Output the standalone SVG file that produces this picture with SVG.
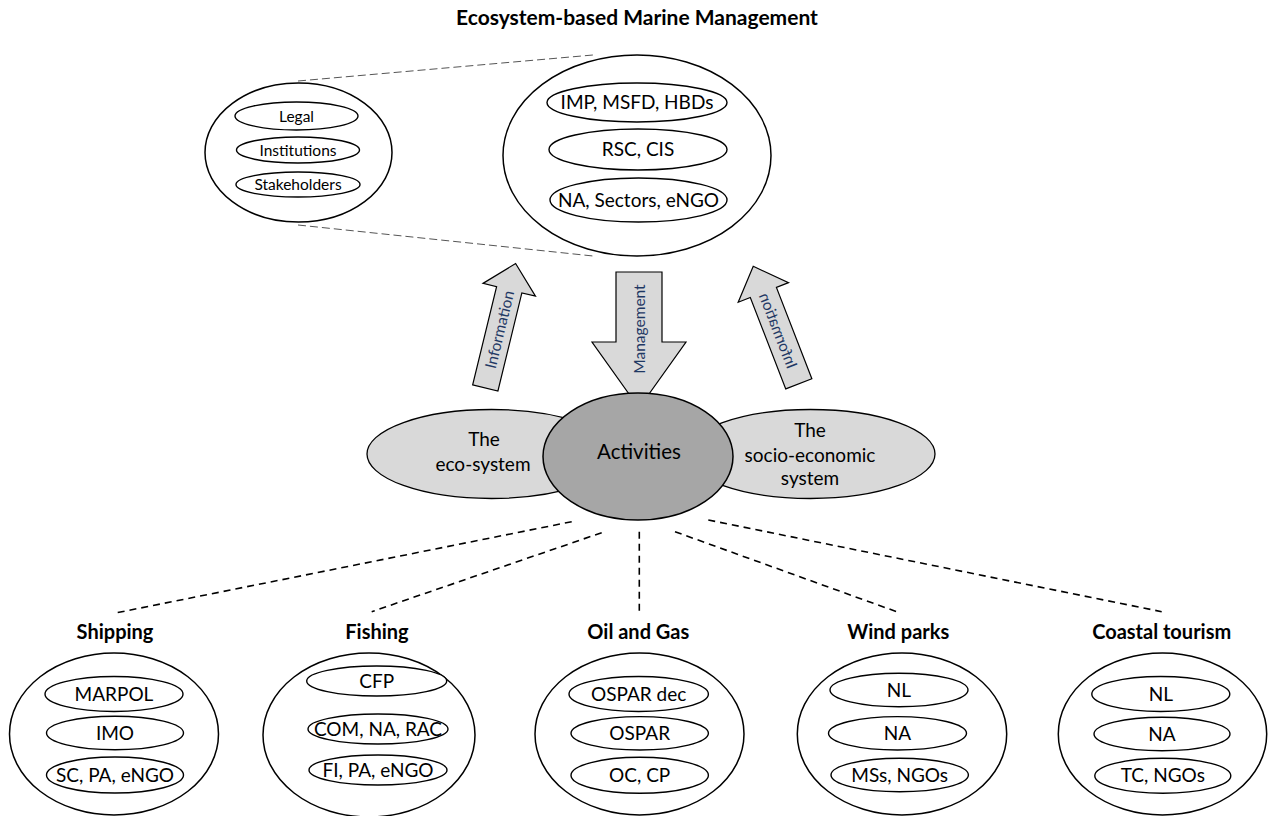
<svg xmlns="http://www.w3.org/2000/svg" width="1269" height="816" viewBox="0 0 1269 816">
<style>
text{font-family:Lato,"Open Sans","Liberation Sans",sans-serif;fill:#000;text-anchor:middle}
.o{fill:#fff;stroke:#000;stroke-width:1.5}
.i{fill:#fff;stroke:#000;stroke-width:1.4}
.t{font-size:19px}
.s{font-size:15.5px}
.b{font-size:20px;font-weight:bold}
.g{fill:#d9d9d9;stroke:#000;stroke-width:1.3}
.ar{fill:#d9d9d9;stroke:#000;stroke-width:1.2}
.bl{font-size:15.5px;fill:#1f3864}
.dt{fill:none;stroke:#555;stroke-width:1;stroke-dasharray:8 4}
.db{fill:none;stroke:#000;stroke-width:1.6;stroke-dasharray:7 5}
</style>
<rect width="1269" height="816" fill="#fff"/>
<text id="title" class="b" x="637" y="25" style="font-size:21px">Ecosystem-based Marine Management</text>

<g id="connectors">
<line class="dt" x1="298" y1="81" x2="593" y2="55"/>
<line class="dt" x1="298" y1="225" x2="593" y2="256"/>
<line class="db" x1="571.7" y1="521.7" x2="114" y2="613.3"/>
<line class="db" x1="601.7" y1="532.7" x2="371.7" y2="611.7"/>
<line class="db" x1="639.3" y1="531.7" x2="639.3" y2="611.7"/>
<line class="db" x1="675" y1="531.7" x2="898.3" y2="612.3"/>
<line class="db" x1="708.3" y1="520" x2="1161.7" y2="611.7"/>
</g>

<g id="framework-small">
<ellipse class="o" cx="298.5" cy="152.5" rx="93.5" ry="69.5"/>
<ellipse class="i" cx="296.5" cy="116" rx="61.5" ry="14"/>
<text class="s" x="296.5" y="121.5">Legal</text>
<ellipse class="i" cx="298" cy="150" rx="61.5" ry="13"/>
<text class="s" x="298" y="155.5">Institutions</text>
<ellipse class="i" cx="298" cy="184.5" rx="62" ry="12.5"/>
<text class="s" x="298" y="190">Stakeholders</text>
</g>

<g id="framework-large">
<ellipse class="o" cx="637" cy="155.5" rx="134" ry="100.5"/>
<ellipse class="i" cx="637" cy="102.5" rx="90" ry="19.5"/>
<text class="t" x="637" y="109">IMP, MSFD, HBDs</text>
<ellipse class="i" cx="638" cy="149.5" rx="89" ry="20.5"/>
<text class="t" x="638" y="156">RSC, CIS</text>
<ellipse class="i" cx="638.5" cy="200" rx="88.5" ry="22"/>
<text class="t" x="638.5" y="206.5">NA, Sectors, eNGO</text>
</g>

<g id="arrow-info-left" transform="translate(485.3,387.9) rotate(13.7)">
<polygon class="ar" points="-13,0 13,0 13,-101 27,-101 0,-128 -27,-101 -13,-101"/>
<text class="bl" transform="translate(0,-60) rotate(-90)" y="5.5">Information</text>
</g>

<g id="arrow-management">
<polygon class="ar" points="616,272 662,272 662,342 686,342 639,408 592,342 616,342"/>
<text class="bl" transform="translate(639,329) rotate(-90)" y="5.5">Management</text>
</g>

<g id="arrow-info-right" transform="translate(798.8,383.8) rotate(-21.2) scale(-1,1)">
<polygon class="ar" points="-14,0 14,0 14,-98 27,-98 0,-126 -27,-98 -14,-98"/>
<text class="bl" transform="translate(0,-57) rotate(-90)" y="5.5">Information</text>
</g>

<g id="eco-system">
<ellipse class="g" cx="491.5" cy="454" rx="124.5" ry="44.5"/>
<text class="t" x="484" y="446">The</text>
<text class="t" x="483" y="470.5">eco-system</text>
</g>

<g id="socio-economic">
<ellipse class="g" cx="810.5" cy="454" rx="124.5" ry="44.5"/>
<text class="t" x="810" y="437">The</text>
<text class="t" x="810" y="461.5">socio-economic</text>
<text class="t" x="810" y="485">system</text>
</g>

<g id="activities">
<ellipse cx="638" cy="456.5" rx="95" ry="63.5" fill="#a6a6a6" stroke="#000" stroke-width="1.5"/>
<text x="639" y="458.5" style="font-size:20.5px">Activities</text>
</g>

<g id="shipping">
<text class="b" x="115" y="639">Shipping</text>
<ellipse class="o" cx="114" cy="734" rx="104.5" ry="81"/>
<ellipse class="i" cx="114" cy="694" rx="69" ry="17.5"/>
<text class="t" x="114" y="700.5">MARPOL</text>
<ellipse class="i" cx="115" cy="733" rx="68.5" ry="16.7"/>
<text class="t" x="115" y="739.5">IMO</text>
<ellipse class="i" cx="115" cy="775" rx="68.5" ry="18"/>
<text class="t" x="115" y="781.5">SC, PA, eNGO</text>
</g>

<g id="fishing">
<text class="b" x="377" y="639">Fishing</text>
<ellipse class="o" cx="369" cy="735" rx="106" ry="82"/>
<ellipse class="i" cx="376.7" cy="681" rx="70" ry="15"/>
<text class="t" x="376.7" y="687.5">CFP</text>
<ellipse class="i" cx="378" cy="729" rx="70" ry="15"/>
<text class="t" x="378" y="735.5">COM, NA, RAC</text>
<ellipse class="i" cx="378" cy="770" rx="69" ry="15"/>
<text class="t" x="378" y="776.5">FI, PA, eNGO</text>
</g>

<g id="oil-and-gas">
<text class="b" x="638.3" y="638.5">Oil and Gas</text>
<ellipse class="o" cx="639.5" cy="734" rx="104.5" ry="81"/>
<ellipse class="i" cx="638.7" cy="694" rx="69.7" ry="17.5"/>
<text class="t" x="638.7" y="700.5">OSPAR dec</text>
<ellipse class="i" cx="639.7" cy="733.3" rx="68.7" ry="16.7"/>
<text class="t" x="639.7" y="739.8">OSPAR</text>
<ellipse class="i" cx="639.7" cy="775.3" rx="68.7" ry="18"/>
<text class="t" x="639.7" y="781.8">OC, CP</text>
</g>

<g id="wind-parks">
<text class="b" x="898.3" y="639">Wind parks</text>
<ellipse class="o" cx="902" cy="734" rx="104.7" ry="81"/>
<ellipse class="i" cx="899" cy="690" rx="69" ry="16.7"/>
<text class="t" x="899" y="696.5">NL</text>
<ellipse class="i" cx="897.5" cy="733.3" rx="69" ry="16.7"/>
<text class="t" x="897.5" y="739.8">NA</text>
<ellipse class="i" cx="899.7" cy="775" rx="68.7" ry="16.7"/>
<text class="t" x="899.7" y="781.5">MSs, NGOs</text>
</g>

<g id="coastal-tourism">
<text class="b" x="1161.7" y="638.5">Coastal tourism</text>
<ellipse class="o" cx="1162.5" cy="734" rx="104.2" ry="81"/>
<ellipse class="i" cx="1160.8" cy="694" rx="69" ry="17.5"/>
<text class="t" x="1160.8" y="700.5">NL</text>
<ellipse class="i" cx="1162" cy="734" rx="68" ry="16.7"/>
<text class="t" x="1162" y="740.5">NA</text>
<ellipse class="i" cx="1162.8" cy="775.8" rx="68" ry="17.5"/>
<text class="t" x="1162.8" y="782.3">TC, NGOs</text>
</g>
</svg>
